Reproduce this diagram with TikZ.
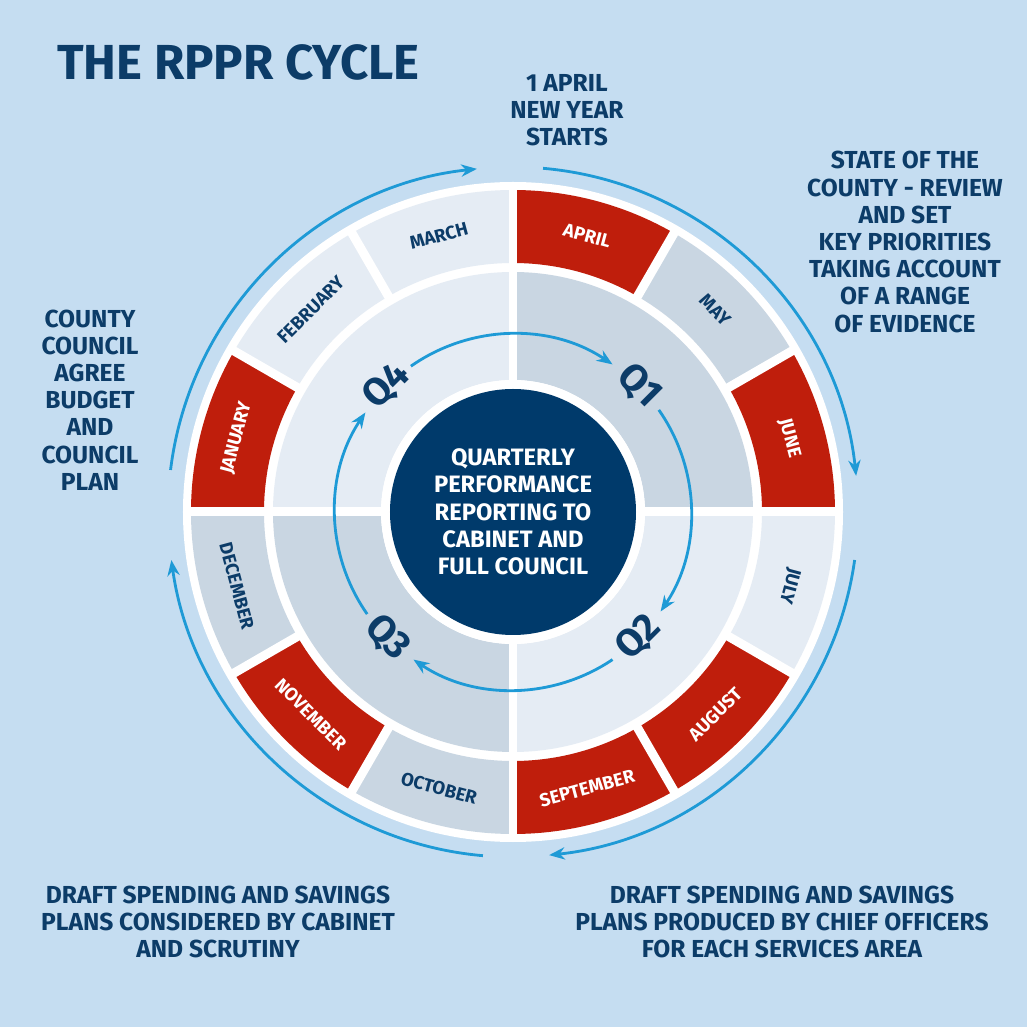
\documentclass[tikz,border=0pt]{standalone}
\usepackage{fontspec}
\setmainfont{Fira Sans}
\usetikzlibrary{arrows.meta}
\definecolor{bgblue}{HTML}{C5DDF1}
\definecolor{navy}{HTML}{0C3C68}
\definecolor{cdark}{HTML}{003A6B}
\definecolor{mred}{HTML}{BF1E0C}
\definecolor{mgrey}{HTML}{C9D6E2}
\definecolor{mlight}{HTML}{E5ECF4}
\definecolor{arrowblue}{HTML}{1E9AD6}
\tikzset{
    note/.style={align=center, text=navy, font=\bfseries\fontsize{14}{15.5}\selectfont},
    month/.style={text=navy, font=\bfseries\fontsize{10.5}{12}\selectfont},
    qlabel/.style={text=navy, font=\bfseries\fontsize{22}{24}\selectfont},
    cycle arrow/.style={arrowblue, line width=1.6pt, -{Stealth[length=9pt,width=7pt]}},
    gap/.style={white, line width=0.18cm}
}
\begin{document}
\begin{tikzpicture}[x=0.02cm, y=0.02cm]
    \fill[bgblue] (-513,-515) rectangle (514,512);
    \useasboundingbox (-513,-515) rectangle (514,512);
    % white disc behind the rings
    \fill[white] (0,0) circle[radius=330];
    % quarters
    \foreach \a/\col in {0/mgrey, 270/mlight, 180/mgrey, 90/mlight}
        \fill[\col] (\a:132) arc[start angle=\a, end angle=\a+90, radius=132]
            -- (\a+90:240) arc[start angle=\a+90, end angle=\a, radius=240] -- cycle;
    % months, clockwise from the top
    \foreach \i/\col in {0/mred, 1/mgrey, 2/mred, 3/mlight, 4/mred, 5/mred,
                         6/mgrey, 7/mred, 8/mgrey, 9/mred, 10/mlight, 11/mlight} {
        \pgfmathsetmacro{\aS}{90-30*\i}
        \pgfmathsetmacro{\aE}{60-30*\i}
        \fill[\col] (\aS:249) arc[start angle=\aS, end angle=\aE, radius=249]
            -- (\aE:322) arc[start angle=\aE, end angle=\aS, radius=322] -- cycle;
    }
    \foreach \a in {0,30,...,330}
        \draw[gap] (\a:245) -- (\a:326);
    \draw[gap] (-245,0) -- (245,0);
    \draw[gap] (0,-245) -- (0,245);
    % centre
    \fill[white] (0,0) circle[radius=132];
    \node (centre) [circle, fill=cdark, inner sep=0pt,
        minimum size=0.02cm*246, align=center, text=white,
        font=\bfseries\fontsize{13.5}{15.5}\selectfont]
        {QUARTERLY\\PERFORMANCE\\REPORTING TO\\CABINET AND\\FULL COUNCIL};
    % month labels
    \foreach \m/\ang/\rot/\tc in {APRIL/75/-15/white, MAY/45/-45/navy, JUNE/15/-75/white,
        JULY/-15/-105/navy, AUGUST/-45/45/white, SEPTEMBER/-75/15/white,
        OCTOBER/-105/-15/navy, NOVEMBER/-135/-45/white, DECEMBER/-165/-75/navy,
        JANUARY/165/75/white, FEBRUARY/135/45/navy, MARCH/105/15/navy}
        \node (m-\m) [month, text=\tc, rotate=\rot] at (\ang:286) {\m};
    % quarter labels
    \node (q1) [qlabel, rotate=-45] at (45:178) {Q1};
    \node (q2) [qlabel, rotate=45] at (-45:178) {Q2};
    \node (q3) [qlabel, rotate=-45] at (-135:178) {Q3};
    \node (q4) [qlabel, rotate=45] at (135:178) {Q4};
    % inner arrows
    \draw[cycle arrow] (125:178) arc[start angle=125, end angle=56, radius=178];
    \draw[cycle arrow] (35:178) arc[start angle=35, end angle=-34, radius=178];
    \draw[cycle arrow] (-56:178) arc[start angle=-56, end angle=-124, radius=178];
    \draw[cycle arrow] (-145:178) arc[start angle=-145, end angle=-214, radius=178];
    % outer arrows
    \draw[cycle arrow] (85:345) arc[start angle=85, end angle=6, radius=345];
    \draw[cycle arrow] (-8:345) arc[start angle=-8, end angle=-84, radius=345];
    \draw[cycle arrow] (-95:345) arc[start angle=-95, end angle=-172, radius=345];
    \draw[cycle arrow] (-187:345) arc[start angle=-187, end angle=-264, radius=345];
    % texts
    \node (title) [anchor=west, text=navy, font=\bfseries\fontsize{28}{30}\selectfont]
        at (-462,450) {THE RPPR CYCLE};
    \node (start) [note] at (54,402) {1 APRIL\\NEW YEAR\\STARTS};
    \node (state) [note] at (392,270) {STATE OF THE\\COUNTY - REVIEW\\AND SET\\
        KEY PRIORITIES\\TAKING ACCOUNT\\OF A RANGE\\OF EVIDENCE};
    \node (agree) [note] at (-423,112) {COUNTY\\COUNCIL\\AGREE\\BUDGET\\AND\\COUNCIL\\PLAN};
    \node (draftL) [note] at (-295,-410) {DRAFT SPENDING AND SAVINGS\\
        PLANS CONSIDERED BY CABINET\\AND SCRUTINY};
    \node (draftR) [note] at (269,-410) {DRAFT SPENDING AND SAVINGS\\
        PLANS PRODUCED BY CHIEF OFFICERS\\FOR EACH SERVICES AREA};
\end{tikzpicture}
\end{document}
